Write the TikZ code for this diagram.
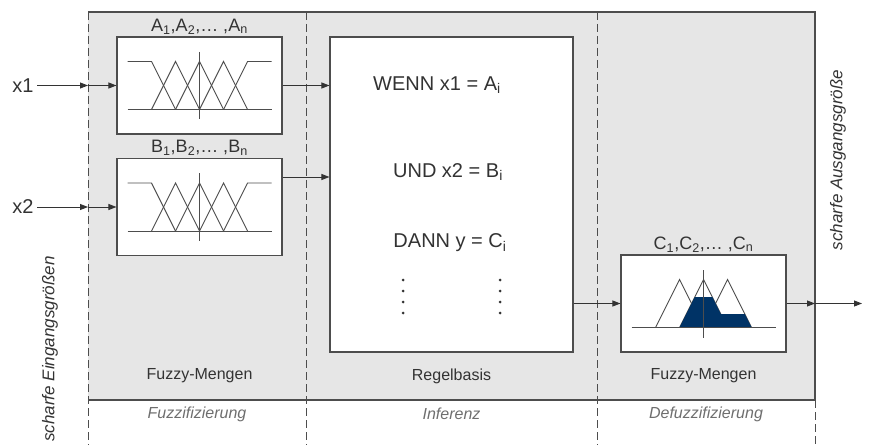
\documentclass[tikz,border=0pt]{standalone}
\usepackage{fontspec}
\setmainfont{Liberation Sans}
\usetikzlibrary{arrows.meta,positioning}
\definecolor{fzpanel}{RGB}{230,230,230}
\definecolor{fzline}{RGB}{77,77,77}
\definecolor{fztext}{RGB}{51,51,51}
\definecolor{fzgray}{RGB}{110,110,110}
\definecolor{fzblue}{RGB}{0,51,102}
\tikzset{
  setbox/.style={draw=fzline,fill=white,line width=1.1pt,minimum width=165,minimum height=97,inner sep=0pt},
  setline/.style={fzline,line width=0.9pt},
  flow/.style={fztext,line width=0.9pt,-{Triangle[length=8pt,width=6pt]}},
  divider/.style={fzline,line width=0.9pt,dash pattern=on 8pt off 4pt},
  settext/.style={text=fztext,font=\fontsize{18}{21}\selectfont},
  ruletext/.style={text=fztext,font=\fontsize{20}{24}\selectfont},
  phase/.style={text=fztext,font=\fontsize{16}{19}\selectfont},
  stage/.style={text=fzgray,font=\fontsize{16}{19}\selectfont\itshape},
  sidetext/.style={text=fztext,font=\fontsize{17}{20}\selectfont\itshape,rotate=90}
}
\begin{document}
\begin{tikzpicture}[x=1pt,y=1pt]
  \useasboundingbox (0,0) rectangle (874,445);
  \fill[fzpanel] (88,45) rectangle (815,433);
  \draw[fzline,line width=1.1pt] (88,433) -- (815,433) -- (815,45) -- (88,45);
  \foreach \x in {88,306,597}
    \draw[divider] (\x,433) -- (\x,0);
  \draw[divider] (815,45) -- (815,0);

  \node[setbox] (fa) at (199.5,359.5) {};
  \node[setbox] (fb) at (199.5,238) {};
  \node[setbox,minimum width=243,minimum height=315] (rule) at (451.5,250.5) {};
  \node[setbox] (fc) at (703.5,141.5) {};

  \node[settext,above=1pt of fa,inner sep=1pt] (la) {A\textsubscript{1},A\textsubscript{2},\ldots\ ,A\textsubscript{n}};
  \node[settext,above=1pt of fb,inner sep=1pt] (lb) {B\textsubscript{1},B\textsubscript{2},\ldots\ ,B\textsubscript{n}};
  \node[settext,above=1pt of fc,inner sep=1pt] (lc) {C\textsubscript{1},C\textsubscript{2},\ldots\ ,C\textsubscript{n}};

  \foreach \s in {fa,fb} {
    \begin{scope}[shift={(\s.center)}]
      \draw[setline] (-72,24) -- (-48,24) -- (-24,-24);
      \foreach \p in {-24,0,24}
        \draw[setline] (\p-24,-24) -- (\p,24) -- (\p+24,-24);
      \draw[setline] (24,-24) -- (48,24) -- (72,24);
      \draw[setline] (-72,-24) -- (72,-24) (0,33.5) -- (0,-33.5);
    \end{scope}
  }

  \begin{scope}[shift={(fc.center)}]
    \foreach \p in {-24,0,24}
      \draw[setline] (\p-24,-24) -- (\p,24) -- (\p+24,-24);
    \fill[fzblue] (-24,-24) -- (-8.75,6.5) -- (8.75,6.5) -- (17.25,-10.5)
      -- (41.25,-10.5) -- (48,-24) -- cycle;
    \draw[setline] (-72,-24) -- (72,-24) (0,33.5) -- (0,-34.5);
  \end{scope}

  \node[ruletext] (r1) at (437,359.5) {WENN x1 = A\textsubscript{i}};
  \node[ruletext] (r2) at (448,273) {UND x2 = B\textsubscript{i}};
  \node[ruletext] (r3) at (450,202) {DANN y = C\textsubscript{i}};
  \foreach \y in {165,154,143,132} {
    \fill[fztext] (403,\y) circle (1.5);
    \fill[fztext] (500,\y) circle (1.5);
  }

  \node[ruletext] (x1) at (23,359.5) {x1};
  \node[ruletext] (x2) at (23,238) {x2};
  \coordinate (ina) at (88,359.5);
  \coordinate (inb) at (88,238);
  \coordinate (outc) at (815,141.5);
  \coordinate (out) at (862,141.5);
  \draw[flow] (x1) -- (ina);
  \draw[flow] (ina) -- (fa.west);
  \draw[flow] (x2) -- (inb);
  \draw[flow] (inb) -- (fb.west);
  \draw[flow] (fa.east) -- (fa.east -| rule.west);
  \draw[flow] ([yshift=30pt]fb.east) -- ([yshift=30pt]fb.east -| rule.west);
  \draw[flow] (rule.east |- fc.west) -- (fc.west);
  \draw[flow] (fc.east) -- (outc);
  \draw[flow] (outc) -- (out);

  \node[phase] (pa) at (199.5,69) {Fuzzy-Mengen};
  \node[phase] (pb) at (451.5,69) {Regelbasis};
  \node[phase] (pc) at (703.5,69) {Fuzzy-Mengen};
  \node[stage] (sa) at (197,31) {Fuzzifizierung};
  \node[stage] (sb) at (451.5,31) {Inferenz};
  \node[stage] (sc) at (706,31) {Defuzzifizierung};

  \node[sidetext] (ein) at (50,96) {scharfe Eingangsgrößen};
  \node[sidetext] (aus) at (838,285) {scharfe Ausgangsgröße};
\end{tikzpicture}
\end{document}
